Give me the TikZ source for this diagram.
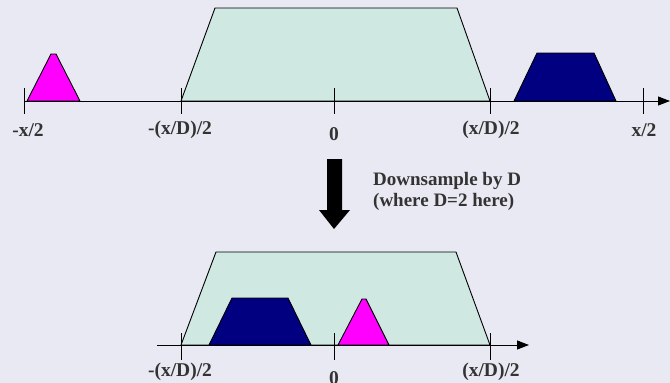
\documentclass[tikz,border=0pt]{standalone}
\usepackage{fontspec}
\setmainfont{Liberation Serif}
\usetikzlibrary{arrows.meta}
\definecolor{clrBg}{HTML}{E9E9F3}
\definecolor{clrPass}{HTML}{CFE8E2}
\definecolor{clrPink}{HTML}{FF00FF}
\definecolor{clrNavy}{HTML}{000080}
\definecolor{clrText}{HTML}{333333}
\tikzset{
  axis/.style = {-{Triangle[length=12pt, width=9pt]}, line width=0.9pt},
  tickmark/.style = {line width=0.9pt},
  band/.style = {draw=black, line width=0.9pt, line join=round},
  lbl/.style = {font=\bfseries\fontsize{19.5}{22}\selectfont, text=clrText, inner sep=0pt},
  note/.style = {font=\bfseries\fontsize{19}{21}\selectfont, text=clrText, align=left, inner sep=0pt},
}

\begin{document}
\begin{tikzpicture}[x=1pt, y=-1pt]
  % pixel grid of the reference, y pointing down
  \fill[clrBg] (0,0) rectangle (670,383);
  \useasboundingbox (0,0) rectangle (670,383);

  % x-positions of the ticks
  \def\xA{24}
  \def\xB{181}
  \def\xC{334}
  \def\xD{490}
  \def\xE{643}
  \def\yTop{101}
  \def\yBot{345}

  % --- Before downsampling ---
  \path[fill=clrPass, band] (\xB,\yTop) -- (215,8) -- (457,8) -- (\xD,\yTop) -- cycle;
  \path[fill=clrPink, band] (27,\yTop) -- (51,54) -- (56,54) -- (80,\yTop) -- cycle;
  \path[fill=clrNavy, band] (514,\yTop) -- (537,53) -- (594,53) -- (616,\yTop) -- cycle;

  \coordinate (T0) at (24,\yTop);
  \coordinate (T1) at (670,\yTop);
  \draw[axis] (T0) -- (T1);

  \foreach \x/\name in {\xA/ta, \xB/tb, \xC/tc, \xD/td, \xE/te} {
    \coordinate (\name) at (\x,88);
    \draw[tickmark] (\name) -- ++(0,26);
  }

  \node[lbl] (la) at (28,130)  {-x/2};
  \node[lbl] (lb) at (180,130) {-(x/D)/2};
  \node[lbl] (lc) at (334,134) {0};
  \node[lbl] (ld) at (491,130) {(x/D)/2};
  \node[lbl] (le) at (644,130) {x/2};

  % --- Downsample arrow ---
  \fill[black] (327,159) -- (342,159) -- (342,210) -- (350,210) -- (334,229)
    -- (319,210) -- (327,210) -- cycle;
  \node[note, anchor=west] (step) at (373,191) {Downsample by D\\(where D=2 here)};

  % --- After downsampling ---
  \path[fill=clrPass, band] (\xB,\yBot) -- (216,252) -- (456,252) -- (\xD,\yBot) -- cycle;
  \path[fill=clrNavy, band] (209,\yBot) -- (232,298) -- (288,298) -- (311,\yBot) -- cycle;
  \path[fill=clrPink, band] (338,\yBot) -- (362,299) -- (366,299) -- (389,\yBot) -- cycle;

  \coordinate (B0) at (157,\yBot);
  \coordinate (B1) at (529,\yBot);
  \draw[axis] (B0) -- (B1);

  \foreach \x/\name in {\xB/bb, \xC/bc, \xD/bd} {
    \coordinate (\name) at (\x,333);
    \draw[tickmark] (\name) -- ++(0,27);
  }

  \node[lbl] (mb) at (180,372) {-(x/D)/2};
  \node[lbl] (mc) at (334,378) {0};
  \node[lbl] (md) at (491,372) {(x/D)/2};
\end{tikzpicture}
\end{document}
